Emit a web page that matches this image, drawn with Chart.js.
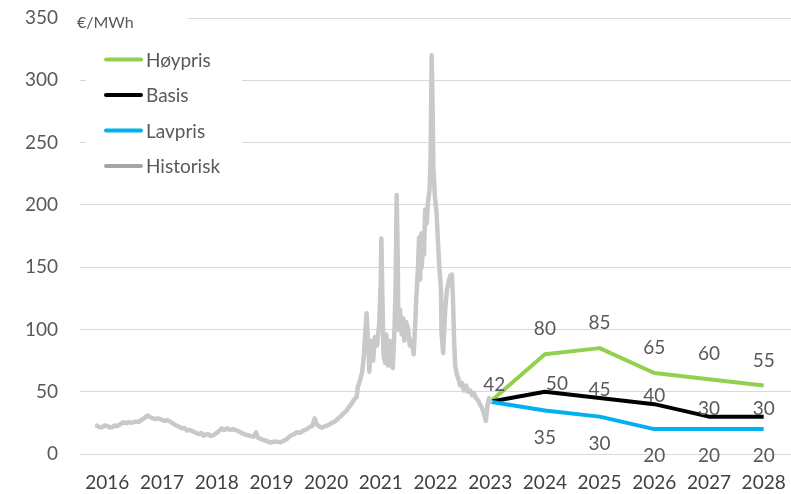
<!DOCTYPE html>
<html>
<head>
<meta charset="utf-8">
<script src="https://cdn.jsdelivr.net/npm/chart.js@4/dist/chart.umd.min.js"></script>
<style>
  html, body { margin: 0; padding: 0; background: #ffffff; }
  #wrap { width: 791px; height: 494px; position: relative; }
</style>
</head>
<body>
<div id="wrap"><canvas id="chart"></canvas></div>
<script>
// Scenario years and prices (€/MWh)
const forecastYears = [2023, 2024, 2025, 2026, 2027, 2028];
const hoyPris = [42, 80, 85, 65, 60, 55];
const basis   = [42, 50, 45, 40, 30, 30];
const lavPris = [42, 35, 30, 20, 20, 20];

// Historical price, sampled (decimal year, €/MWh)
const histYears = [
  2015.81, 2015.85, 2015.90, 2015.95, 2016.00, 2016.04, 2016.09, 2016.13, 2016.18, 2016.24,
  2016.30, 2016.35, 2016.39, 2016.44, 2016.51, 2016.57, 2016.60, 2016.66, 2016.73, 2016.76,
  2016.79, 2016.83, 2016.88, 2016.92, 2016.97, 2017.01, 2017.06, 2017.10, 2017.15, 2017.20,
  2017.24, 2017.30, 2017.36, 2017.41, 2017.46, 2017.50, 2017.55, 2017.59, 2017.64, 2017.68,
  2017.72, 2017.76, 2017.80, 2017.85, 2017.89, 2017.94, 2017.98, 2018.03, 2018.09, 2018.14,
  2018.19, 2018.23, 2018.31, 2018.37, 2018.43, 2018.48, 2018.55, 2018.61, 2018.67, 2018.72,
  2018.75, 2018.79, 2018.85, 2018.91, 2018.98, 2019.03, 2019.10, 2019.16, 2019.22, 2019.28,
  2019.34, 2019.40, 2019.46, 2019.53, 2019.59, 2019.64, 2019.71, 2019.75, 2019.79, 2019.83,
  2019.87, 2019.92, 2019.96, 2020.01, 2020.07, 2020.13, 2020.18, 2020.22, 2020.27, 2020.32,
  2020.37, 2020.41, 2020.44, 2020.47, 2020.51, 2020.56, 2020.58, 2020.62, 2020.66, 2020.69,
  2020.72, 2020.74, 2020.77, 2020.79, 2020.82, 2020.86, 2020.89, 2020.93, 2020.97, 2021.00,
  2021.01, 2021.03, 2021.05, 2021.08, 2021.10, 2021.13, 2021.16, 2021.19, 2021.22, 2021.25,
  2021.27, 2021.29, 2021.31, 2021.32, 2021.35, 2021.38, 2021.41, 2021.43, 2021.46, 2021.50,
  2021.53, 2021.57, 2021.60, 2021.63, 2021.65, 2021.68, 2021.70, 2021.72, 2021.74, 2021.75,
  2021.77, 2021.79, 2021.81, 2021.84, 2021.86, 2021.89, 2021.91, 2021.93, 2021.95, 2021.96,
  2021.99, 2022.02, 2022.05, 2022.07, 2022.10, 2022.11, 2022.14, 2022.16, 2022.18, 2022.21,
  2022.25, 2022.27, 2022.30, 2022.32, 2022.34, 2022.36, 2022.39, 2022.42, 2022.45, 2022.48,
  2022.52, 2022.56, 2022.59, 2022.63, 2022.67, 2022.70, 2022.74, 2022.78, 2022.81, 2022.85,
  2022.89, 2022.92, 2022.95, 2022.98, 2023.00
];
const histValues = [
  22.7, 21.6, 21.4, 22.9, 22.5, 21.3, 21.6, 22.9, 22.4, 24.2,
  25.4, 24.7, 25.6, 25.0, 26.0, 25.6, 26.6, 28.4, 30.8, 30.2,
  29.4, 28.8, 28.0, 28.6, 27.9, 27.1, 26.7, 27.2, 26.0, 24.6,
  23.3, 22.0, 20.6, 20.9, 18.7, 19.3, 18.5, 17.6, 16.6, 16.0,
  16.8, 14.7, 15.6, 15.8, 14.5, 15.2, 16.4, 17.9, 20.6, 19.2,
  20.6, 19.5, 19.8, 18.9, 17.4, 16.3, 15.2, 14.6, 13.9, 17.4,
  13.1, 12.4, 11.2, 10.5, 9.1, 9.8, 9.9, 9.3, 10.4, 12.0,
  14.4, 15.6, 17.4, 17.0, 19.0, 19.8, 21.9, 22.6, 28.6, 23.8,
  22.3, 21.1, 21.9, 22.7, 24.0, 25.4, 26.8, 28.6, 30.4, 32.7,
  34.5, 37.2, 39.0, 40.7, 43.5, 46.0, 54, 59, 66, 79,
  100, 113, 87, 66, 91, 75, 94, 87, 104, 140,
  173, 124, 79, 73, 96, 71, 91, 71, 69, 100,
  132, 208, 156, 100, 116, 96, 109, 91, 106, 100,
  87, 91, 80, 105, 126, 150, 174, 140, 177, 150,
  172, 160, 196, 185, 201, 212, 236, 320, 270, 230,
  206, 193, 166, 150, 132, 97, 81, 100, 118, 132,
  140, 143, 144, 124, 91, 71, 64, 60, 55, 57,
  51, 55, 50, 51, 47, 49, 45, 43, 40, 37,
  32, 26.5, 39, 45, 42
];

// Axis ticks
const yTickValues = [0, 50, 100, 150, 200, 250, 300, 350];
const xTickYears = [2016, 2017, 2018, 2019, 2020, 2021, 2022, 2023, 2024, 2025, 2026, 2027, 2028];
const unitText = '€/MWh';

const FONT = 'Lato, "Open Sans", sans-serif';
const TEXT_GREY = '#595959';

const toPoints = (xs, ys) => xs.map((x, i) => ({ x: x, y: ys[i] }));

// Value labels next to the scenario points
const valueLabels = {
  id: 'valueLabels',
  afterDatasetsDraw(chart) {
    const ctx = chart.ctx;
    ctx.save();
    ctx.font = '19px ' + FONT;
    ctx.fillStyle = TEXT_GREY;
    ctx.textAlign = 'center';
    ctx.textBaseline = 'middle';
    chart.data.datasets.forEach((ds, di) => {
      if (ds.labelDy === undefined) return;
      const meta = chart.getDatasetMeta(di);
      meta.data.forEach((pt, j) => {
        if (j === 0 && !ds.labelFirst) return;
        let dx = 0, dy = ds.labelDy;
        if (j === 0 && ds.firstLabelShift) { dx = ds.firstLabelShift[0]; dy = ds.firstLabelShift[1]; }
        if (ds.labelNudgeX && ds.labelNudgeX[j]) dx += ds.labelNudgeX[j];
        ctx.fillText(String(ds.data[j].y), pt.x + dx, pt.y + dy);
      });
    });
    ctx.restore();
  }
};

// Unit caption and the boxed legend inside the plot area
const legendBox = {
  id: 'legendBox',
  afterDraw(chart) {
    const ctx = chart.ctx;
    const area = chart.chartArea;
    const yScale = chart.scales.y;
    ctx.save();
    // unit caption beside the top tick
    const topY = yScale.getPixelForValue(350);
    ctx.fillStyle = '#ffffff';
    ctx.fillRect(area.left, topY - 9, 108, 26);
    ctx.fillStyle = TEXT_GREY;
    ctx.font = '16px ' + FONT;
    ctx.textAlign = 'left';
    ctx.textBaseline = 'middle';
    ctx.fillText(unitText, area.left - 3, topY + 5);

    // legend
    const items = chart.options.plugins.legendBox.items;
    const x0 = area.left + 24, rowH = 35.5, firstY = topY + 41.5;
    ctx.fillStyle = '#ffffff';
    ctx.fillRect(area.left + 6, firstY - 17, 156, rowH * items.length + 2);
    ctx.font = '19px ' + FONT;
    items.forEach((it, i) => {
      const y = firstY + i * rowH;
      ctx.strokeStyle = it.color;
      ctx.lineWidth = 4;
      ctx.lineCap = 'round';
      ctx.beginPath();
      ctx.moveTo(x0 + 2, y);
      ctx.lineTo(x0 + 37, y);
      ctx.stroke();
      ctx.fillStyle = TEXT_GREY;
      ctx.fillText(it.text, x0 + 42, y + 1);
    });
    ctx.restore();
  }
};

new Chart(document.getElementById('chart'), {
  type: 'line',
  data: {
    datasets: [
      {
        label: 'Historisk',
        data: toPoints(histYears, histValues),
        borderColor: '#c9c9c9',
        borderWidth: 4.5,
        pointRadius: 0,
        tension: 0,
        borderJoinStyle: 'round',
        borderCapStyle: 'round'
      },
      {
        label: 'Lavpris',
        data: toPoints(forecastYears, lavPris),
        borderColor: '#00b0f0',
        borderWidth: 4,
        pointRadius: 0,
        tension: 0,
        borderJoinStyle: 'round',
        labelDy: 27
      },
      {
        label: 'Basis',
        data: toPoints(forecastYears, basis),
        borderColor: '#000000',
        borderWidth: 4,
        pointRadius: 0,
        tension: 0,
        borderJoinStyle: 'round',
        labelDy: -8,
        labelNudgeX: { 1: 12 }
      },
      {
        label: 'Høypris',
        data: toPoints(forecastYears, hoyPris),
        borderColor: '#92d050',
        borderWidth: 4,
        pointRadius: 0,
        tension: 0,
        borderJoinStyle: 'round',
        labelDy: -25,
        labelFirst: true,
        firstLabelShift: [4, -17]
      }
    ]
  },
  options: {
    responsive: true,
    maintainAspectRatio: false,
    animation: false,
    events: [],
    layout: { padding: { top: 18, left: 0, right: 0, bottom: 0 } },
    scales: {
      x: {
        type: 'linear',
        min: 2015.5,
        max: 2028.5,
        afterBuildTicks: (scale) => { scale.ticks = xTickYears.map(v => ({ value: v })); },
        afterFit: (scale) => {
          scale.height = 40;
          scale.paddingLeft = 0;
          scale.paddingRight = 0;
        },
        grid: { display: false, drawTicks: false },
        border: { display: false },
        ticks: {
          color: '#404040',
          font: { family: FONT, size: 19 },
          padding: 17,
          maxRotation: 0,
          autoSkip: false,
          callback: (v) => String(v)
        }
      },
      y: {
        min: 0,
        max: 350,
        afterBuildTicks: (scale) => { scale.ticks = yTickValues.map(v => ({ value: v })); },
        afterFit: (scale) => {
          scale.width = 80;
          scale.paddingTop = 0;
          scale.paddingBottom = 0;
        },
        grid: { color: '#d9d9d9', lineWidth: 1, drawTicks: false },
        border: { display: false },
        ticks: {
          color: TEXT_GREY,
          font: { family: FONT, size: 19 },
          padding: 22,
          callback: (v) => String(v)
        }
      }
    },
    plugins: {
      legend: { display: false },
      tooltip: { enabled: false },
      legendBox: {
        items: [
          { text: 'Høypris', color: '#92d050' },
          { text: 'Basis', color: '#000000' },
          { text: 'Lavpris', color: '#00b0f0' },
          { text: 'Historisk', color: '#a6a6a6' }
        ]
      }
    }
  },
  plugins: [valueLabels, legendBox]
});
</script>
</body>
</html>
